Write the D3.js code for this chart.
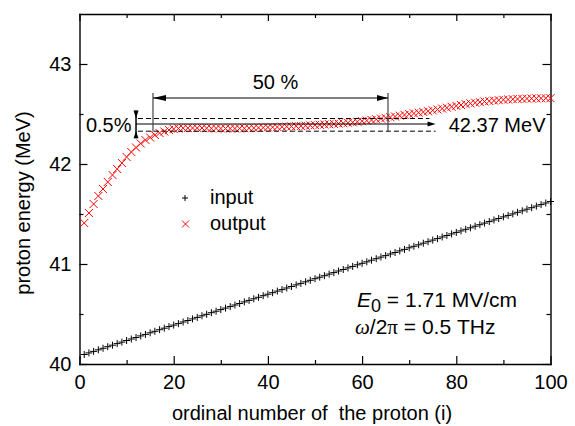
<!DOCTYPE html>
<html>
<head>
<meta charset="utf-8">
<script src="https://cdn.jsdelivr.net/npm/d3@7"></script>
<style>
  body { margin: 0; background: #fff; }
  text { font-family: "Liberation Sans", Arial, sans-serif; fill: #000; }
</style>
</head>
<body>
<div id="container"></div>
<script>
let w = 575;
let h = 426;

// proton energies in MeV, ordinal number i = position in array + 1
let inputEnergy = [
  40.095, 40.111, 40.126, 40.142, 40.157, 40.173, 40.188, 40.204, 40.219, 40.235,
  40.250, 40.265, 40.281, 40.296, 40.312, 40.327, 40.343, 40.358, 40.374, 40.389,
  40.404, 40.420, 40.435, 40.451, 40.466, 40.482, 40.497, 40.513, 40.528, 40.544,
  40.559, 40.574, 40.590, 40.605, 40.621, 40.636, 40.652, 40.667, 40.683, 40.698,
  40.713, 40.729, 40.744, 40.760, 40.775, 40.791, 40.806, 40.822, 40.837, 40.853,
  40.868, 40.883, 40.899, 40.914, 40.930, 40.945, 40.961, 40.976, 40.992, 41.007,
  41.022, 41.038, 41.053, 41.069, 41.084, 41.100, 41.115, 41.131, 41.146, 41.162,
  41.177, 41.192, 41.208, 41.223, 41.239, 41.254, 41.270, 41.285, 41.301, 41.316,
  41.331, 41.347, 41.362, 41.378, 41.393, 41.409, 41.424, 41.440, 41.455, 41.471,
  41.486, 41.501, 41.517, 41.532, 41.548, 41.563, 41.579, 41.594, 41.610, 41.625
];

let outputEnergy = [
  41.410, 41.510, 41.600, 41.680, 41.750, 41.820, 41.890, 41.950, 42.010, 42.070,
  42.120, 42.165, 42.205, 42.240, 42.265, 42.290, 42.310, 42.325, 42.340, 42.350,
  42.355, 42.358, 42.360, 42.360, 42.360, 42.360, 42.358, 42.357, 42.356, 42.355,
  42.355, 42.355, 42.355, 42.356, 42.357, 42.358, 42.360, 42.362, 42.364, 42.366,
  42.368, 42.370, 42.372, 42.374, 42.376, 42.378, 42.380, 42.383, 42.386, 42.389,
  42.392, 42.395, 42.398, 42.401, 42.404, 42.408, 42.412, 42.417, 42.422, 42.428,
  42.434, 42.440, 42.447, 42.454, 42.461, 42.468, 42.475, 42.483, 42.491, 42.499,
  42.506, 42.513, 42.520, 42.528, 42.536, 42.545, 42.554, 42.563, 42.572, 42.581,
  42.590, 42.598, 42.606, 42.613, 42.619, 42.625, 42.630, 42.634, 42.638, 42.642,
  42.645, 42.648, 42.650, 42.652, 42.654, 42.655, 42.656, 42.657, 42.658, 42.658
];

let xTicks = [0, 20, 40, 60, 80, 100];
let xMinorTicks = [10, 30, 50, 70, 90];
let yTicks = [40, 41, 42, 43];
let yMinorTicks = [40.5, 41.5, 42.5];

let legendLabels = ['input', 'output'];

// annotation: plateau window and 0.5% band
let plateauLabel = '42.37 MeV';
let windowLabel = '50 %';
let bandLabel = '0.5%';
let flatEnergy = 42.40;
let bandTop = 42.455;
let bandBottom = 42.328;
let windowStart = 15.6;
let windowEnd = 65.5;
let windowArrowE = 42.66;
let windowTopE = 42.71;

let viz = d3.select('#container')
  .append('svg')
    .attr('width', w)
    .attr('height', h)
    .style('background-color', 'white')
  ;

let x = d3.scaleLinear().domain([0, 100]).range([79.5, 550.5]);
let y = d3.scaleLinear().domain([40, 43.5]).range([364, 14]);

function styleAxis(g){
  g.attr('font-size', 20).attr('font-family', '"Liberation Sans", Arial, sans-serif');
  g.selectAll('path.domain').attr('stroke', '#000').attr('stroke-width', 1.4).attr('stroke-linecap', 'square');
  g.selectAll('.tick line').attr('stroke', '#000').attr('stroke-width', 1.2);
  g.selectAll('.tick text').attr('fill', '#000');
}

// bottom
viz.append('g').attr('transform', 'translate(0,' + y(40) + ')')
  .call(d3.axisBottom(x).tickValues(xTicks).tickSizeInner(-8).tickSizeOuter(0).tickPadding(11))
  .call(styleAxis);
viz.append('g').attr('transform', 'translate(0,' + y(40) + ')')
  .call(d3.axisBottom(x).tickValues(xMinorTicks).tickSizeInner(-4).tickSizeOuter(0).tickFormat(''))
  .call(styleAxis)
  .select('.domain').remove();
// top
viz.append('g').attr('transform', 'translate(0,' + y(43.5) + ')')
  .call(d3.axisTop(x).tickValues(xTicks).tickSizeInner(-7).tickSizeOuter(0).tickFormat(''))
  .call(styleAxis);
viz.append('g').attr('transform', 'translate(0,' + y(43.5) + ')')
  .call(d3.axisTop(x).tickValues(xMinorTicks).tickSizeInner(-4).tickSizeOuter(0).tickFormat(''))
  .call(styleAxis)
  .select('.domain').remove();
// left
viz.append('g').attr('transform', 'translate(' + x(0) + ',0)')
  .call(d3.axisLeft(y).tickValues(yTicks).tickFormat(d3.format('d')).tickSizeInner(-8).tickSizeOuter(0).tickPadding(8))
  .call(styleAxis);
viz.append('g').attr('transform', 'translate(' + x(0) + ',0)')
  .call(d3.axisLeft(y).tickValues(yMinorTicks).tickSizeInner(-4).tickSizeOuter(0).tickFormat(''))
  .call(styleAxis)
  .select('.domain').remove();
// right
viz.append('g').attr('transform', 'translate(' + x(100) + ',0)')
  .call(d3.axisRight(y).tickValues(yTicks).tickSizeInner(-8).tickSizeOuter(0).tickFormat(''))
  .call(styleAxis);
viz.append('g').attr('transform', 'translate(' + x(100) + ',0)')
  .call(d3.axisRight(y).tickValues(yMinorTicks).tickSizeInner(-4).tickSizeOuter(0).tickFormat(''))
  .call(styleAxis)
  .select('.domain').remove();

// axis titles
viz.append('text')
  .attr('x', 312).attr('y', 420)
  .attr('text-anchor', 'middle').attr('font-size', 20)
  .text('ordinal number of\u00a0 the proton (i)');
viz.append('text')
  .attr('transform', 'translate(29.5,203) rotate(-90)')
  .attr('text-anchor', 'middle').attr('font-size', 20)
  .text('proton energy (MeV)');

function plusPath(s){ return 'M' + (-s) + ',0H' + s + 'M0,' + (-s) + 'V' + s; }
function crossPath(s){ return 'M' + (-s) + ',' + (-s) + 'L' + s + ',' + s + 'M' + (-s) + ',' + s + 'L' + s + ',' + (-s); }

let inputData = inputEnergy.map(function(e, k){ return {i: k + 1, e: e}; });
let outputData = outputEnergy.map(function(e, k){ return {i: k + 1, e: e}; });

viz.append('g').selectAll('path')
  .data(inputData)
  .join('path')
    .attr('transform', function(d){ return 'translate(' + x(d.i) + ',' + y(d.e) + ')'; })
    .attr('d', plusPath(3.5))
    .attr('stroke', '#000').attr('stroke-width', 1).attr('fill', 'none');

viz.append('g').selectAll('path')
  .data(outputData)
  .join('path')
    .attr('transform', function(d){ return 'translate(' + x(d.i) + ',' + y(d.e) + ')'; })
    .attr('d', crossPath(4))
    .attr('stroke', '#ff0000').attr('stroke-width', 1).attr('fill', 'none');

// legend
let legend = viz.append('g');
legend.append('path').attr('transform', 'translate(185,198)').attr('d', plusPath(3))
  .attr('stroke', '#000').attr('stroke-width', 1).attr('fill', 'none');
legend.append('path').attr('transform', 'translate(185.5,224)').attr('d', crossPath(3.5))
  .attr('stroke', '#ff0000').attr('stroke-width', 1).attr('fill', 'none');
legend.selectAll('text')
  .data(legendLabels)
  .join('text')
    .attr('x', 210)
    .attr('y', function(d, k){ return 203.5 + k * 26.5; })
    .attr('font-size', 20)
    .text(function(d){ return d; });

// annotations
let ann = viz.append('g').attr('fill', 'none');
let bandX = x(12);
// dashed band lines
ann.append('line').attr('x1', x(12.4)).attr('x2', x(74.3)).attr('y1', y(bandTop)).attr('y2', y(bandTop))
  .attr('stroke', '#000').attr('stroke-width', 1).attr('stroke-dasharray', '5,3');
ann.append('line').attr('x1', x(12.4)).attr('x2', x(75.6)).attr('y1', y(bandBottom)).attr('y2', y(bandBottom))
  .attr('stroke', '#000').attr('stroke-width', 1).attr('stroke-dasharray', '5,3');
// solid arrow to the plateau value
ann.append('line').attr('x1', bandX).attr('x2', x(75.6) - 6).attr('y1', y(flatEnergy)).attr('y2', y(flatEnergy))
  .attr('stroke', '#000').attr('stroke-width', 1);
function arrowHead(tipX, tipY, dir, len, half){
  // dir: 'l','r','u','d' direction the arrow points
  let pts;
  if(dir == 'r'){ pts = [[tipX, tipY], [tipX - len, tipY - half], [tipX - len, tipY + half]]; }
  if(dir == 'l'){ pts = [[tipX, tipY], [tipX + len, tipY - half], [tipX + len, tipY + half]]; }
  if(dir == 'd'){ pts = [[tipX, tipY], [tipX - half, tipY - len], [tipX + half, tipY - len]]; }
  if(dir == 'u'){ pts = [[tipX, tipY], [tipX - half, tipY + len], [tipX + half, tipY + len]]; }
  ann.append('path').attr('d', 'M' + pts.join('L') + 'Z').attr('fill', '#000').attr('stroke', 'none');
}
arrowHead(x(75.6), y(flatEnergy), 'r', 8, 2.5);

// 0.5% vertical arrows
ann.append('line').attr('x1', bandX).attr('x2', bandX).attr('y1', y(bandTop) - 8).attr('y2', y(bandBottom) + 7)
  .attr('stroke', '#000').attr('stroke-width', 1.5);
arrowHead(bandX, y(bandTop), 'd', 8, 2.5);
arrowHead(bandX, y(bandBottom), 'u', 7, 2.5);

// 50% window bracket
[windowStart, windowEnd].forEach(function(v){
  ann.append('line').attr('x1', x(v)).attr('x2', x(v)).attr('y1', y(windowTopE)).attr('y2', y(bandBottom) + 0.5)
    .attr('stroke', '#444').attr('stroke-width', 1.2);
});
ann.append('line').attr('x1', x(windowStart)).attr('x2', x(windowEnd)).attr('y1', y(windowArrowE)).attr('y2', y(windowArrowE))
  .attr('stroke', '#000').attr('stroke-width', 1.2);
arrowHead(x(windowStart), y(windowArrowE), 'l', 13, 3);
arrowHead(x(windowEnd), y(windowArrowE), 'r', 11, 3);

viz.append('text')
  .attr('x', (x(windowStart) + x(windowEnd)) / 2 + 5).attr('y', y(windowArrowE) - 9)
  .attr('text-anchor', 'middle').attr('font-size', 20)
  .text(windowLabel);
viz.append('text')
  .attr('x', bandX - 4.5).attr('y', y(bandBottom) + 0.5)
  .attr('text-anchor', 'end').attr('font-size', 20)
  .text(bandLabel);
viz.append('text')
  .attr('x', x(78.4)).attr('y', y(bandBottom) + 0.5)
  .attr('font-size', 20)
  .text(plateauLabel);

// parameters
let p1 = viz.append('text').attr('x', 357).attr('y', 306.5).attr('font-size', 21);
p1.append('tspan').attr('font-style', 'italic').text('E');
p1.append('tspan').attr('dy', 5).attr('font-size', 18).text('0');
p1.append('tspan').attr('dy', -5).text(' = 1.71 MV/cm');

let p2 = viz.append('text').attr('x', 355).attr('y', 334).attr('font-size', 21);
p2.append('tspan').attr('font-style', 'italic').attr('font-family', '"Liberation Serif", serif').text('\u03c9');
p2.append('tspan').text('/2');
p2.append('tspan').attr('font-family', '"Liberation Serif", serif').text('\u03c0');
p2.append('tspan').text(' = 0.5 THz');
</script>
</body>
</html>
